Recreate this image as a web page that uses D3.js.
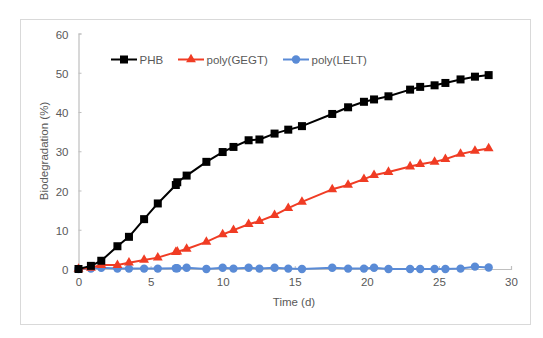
<!DOCTYPE html>
<html><head><meta charset="utf-8">
<script src="https://cdn.jsdelivr.net/npm/d3@7"></script>
<style>html,body{margin:0;padding:0;background:#fff;}svg{display:block;font-family:"Liberation Sans",Arial,sans-serif;}</style>
</head><body>
<svg id="c" width="543" height="338"></svg>
<script>
const days = [0,0.86,1.58,2.7,3.5,4.55,5.5,6.75,6.85,7.5,8.87,10,10.75,11.8,12.55,13.6,14.55,15.5,17.6,18.7,19.8,20.5,21.5,23.0,23.7,24.7,25.45,26.5,27.5,28.45];
const phb  = [0,0.8,2.1,5.8,8.2,12.7,16.7,21.4,22.1,23.8,27.3,29.8,31.1,32.8,33.0,34.5,35.5,36.4,39.5,41.2,42.6,43.2,44.0,45.7,46.4,46.8,47.4,48.3,49.0,49.4];
const gegt = [0,0.3,1.0,1.0,1.6,2.3,2.9,4.3,4.4,5.1,6.9,8.8,9.9,11.4,12.2,13.7,15.5,17.1,20.3,21.4,22.9,23.9,24.7,26.1,26.7,27.3,28.0,29.3,30.1,30.7];
const lelt = [0,0.1,0.3,0.1,0.1,0.1,0.1,0.2,0.2,0.3,0,0.3,0.1,0.3,0.1,0.3,0.1,0,0.3,0.1,0.1,0.3,0,0,0,0,0,0.1,0.6,0.4];
const seriesNames = ["PHB","poly(GEGT)","poly(LELT)"];
const seriesColors = ["#000000","#f03c24","#5a8bd6"];
const xTicks = [0,5,10,15,20,25,30];
const yTicks = [0,10,20,30,40,50,60];

const svg = d3.select("#c");
// outer border
svg.append("rect").attr("x",20.5).attr("y",19.5).attr("width",510).attr("height",305)
  .attr("fill","#fff").attr("stroke","#d9d9d9").attr("stroke-width",1);

const x = d3.scaleLinear().domain([0,30]).range([78.5,511]);
const y = d3.scaleLinear().domain([0,60]).range([269,33.5]);

const tc = "#595959";
// x axis
const gx = svg.append("g").attr("transform","translate(0,269)")
  .call(d3.axisBottom(x).tickValues(xTicks).tickSize(-3).tickPadding(9));
// y axis
const gy = svg.append("g").attr("transform","translate(78.5,0)")
  .call(d3.axisLeft(y).tickValues(yTicks).tickSize(-3).tickPadding(10));
[gx,gy].forEach(g=>{
  g.select(".domain").attr("stroke","#bfbfbf").attr("stroke-width",1.2);
  g.selectAll(".tick line").attr("stroke","#bfbfbf");
  g.selectAll("text").attr("fill",tc).style("font-size","11.5px").style("font-family","Liberation Sans, Arial, sans-serif");
});
gy.selectAll("text").attr("dy","0.4em");

svg.append("text").attr("x",294).attr("y",306).attr("text-anchor","middle")
  .attr("fill",tc).style("font-size","11.5px").text("Time (d)");
svg.append("text").attr("transform","translate(48,151) rotate(-90)").attr("text-anchor","middle")
  .attr("fill",tc).style("font-size","11.5px").text("Biodegradation (%)");

const data = [phb,gegt,lelt];
const line = d3.line().x((d,i)=>x(days[i])).y(d=>y(d));
const tri = d3.symbol().type(d3.symbolTriangle).size(42);

function marker(g, k, cx, cy){
  const c = seriesColors[k];
  if(k===0) g.append("rect").attr("x",cx-4).attr("y",cy-4).attr("width",8).attr("height",8).attr("fill",c);
  else if(k===1) g.append("path").attr("d",tri()).attr("transform",`translate(${cx},${cy})`).attr("fill",c);
  else g.append("circle").attr("cx",cx).attr("cy",cy).attr("r",4.2).attr("fill",c);
}

// draw in reverse order so PHB on top
[2,1,0].forEach(k=>{
  const g = svg.append("g");
  g.append("path").datum(data[k]).attr("d",line).attr("fill","none")
    .attr("stroke",seriesColors[k]).attr("stroke-width",2).attr("stroke-linejoin","round");
  data[k].forEach((v,i)=>marker(g,k,x(days[i]),y(v)));
});

// legend
const legX = [111,178,283];
const legY = 59.5;
seriesNames.forEach((n,k)=>{
  const g = svg.append("g");
  g.append("line").attr("x1",legX[k]).attr("x2",legX[k]+26).attr("y1",legY).attr("y2",legY)
    .attr("stroke",seriesColors[k]).attr("stroke-width",2);
  marker(g,k,legX[k]+13,legY);
  g.append("text").attr("x",legX[k]+28.5).attr("y",legY+4).attr("fill",tc)
    .style("font-size","11.5px").text(n);
});
</script>
</body></html>
